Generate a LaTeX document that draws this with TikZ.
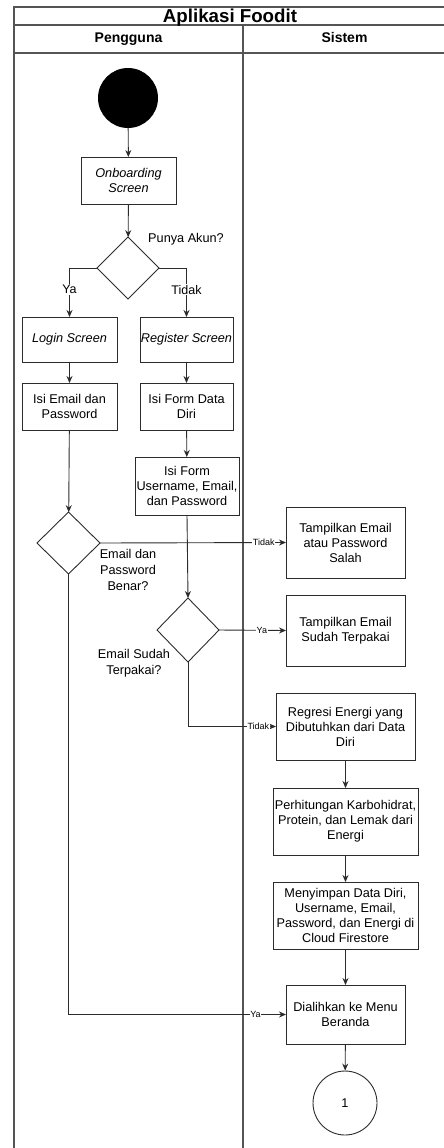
\documentclass[tikz,border=0pt]{standalone}
\usepackage{fontspec}
\setmainfont{Liberation Sans}
\usetikzlibrary{positioning, shapes.geometric, arrows.meta}
\definecolor{L1}{HTML}{2b2b2b}
\definecolor{L2}{HTML}{555555}

\begin{document}
\begin{tikzpicture}[
	x=1pt, y=-1pt,
	box/.style = {draw=L1, rectangle, align=center, inner sep=0pt, outer sep=0pt, line width=0.9pt, font=\fontsize{12.7}{15}\selectfont},
	ibox/.style = {box, font=\fontsize{12.7}{15}\selectfont\itshape},
	dec/.style = {draw=L1, diamond, inner sep=0pt, outer sep=0pt, line width=0.9pt},
	txt/.style = {align=center, inner sep=0pt, font=\fontsize{12.7}{16}\selectfont},
	lbl/.style = {fill=white, inner sep=1pt, font=\fontsize{12.5}{14}\selectfont},
	slbl/.style = {fill=white, inner sep=0.5pt, font=\fontsize{9}{10}\selectfont},
	flow/.style = {draw=L1, line width=0.9pt, -{Stealth[length=7pt, width=6pt]}},
	frame/.style = {draw=L2, line width=1.3pt},
	head/.style = {anchor=base, inner sep=0pt, font=\fontsize{14}{16}\selectfont\bfseries},
	every edge/.style = {flow}
]
  \useasboundingbox (0, 0) rectangle (444, 1148);

  % Swimlanes
  \draw[frame] (14, 1160) -- (14, 7) -- (450, 7);
  \draw[frame] (14, 25) -- (450, 25);
  \draw[frame] (14, 53) -- (450, 53);
  \draw[frame] (243, 25) -- (243, 1160);
  \node[head, font=\fontsize{18.7}{21}\selectfont\bfseries] at (230, 22.5) (title) {Aplikasi Foodit};
  \node[head] at (128.5, 43) (user) {Pengguna};
  \node[head] at (344.5, 43) (sys) {Sistem};

  % Define vertices
  \node[circle, fill=black, minimum size=60pt, inner sep=0pt] at (128, 98) (start) {};
  \node[ibox, minimum width=95pt, minimum height=47pt] at (128.5, 180.5) (onb) {Onboarding \\ Screen};
  \node[dec, minimum width=62pt, minimum height=62pt] at (128, 268) (akun) {};
  \node[txt] at (186, 239) (akunq) {Punya Akun?};
  \node[ibox, minimum width=95pt, minimum height=45pt] at (69.5, 339.5) (login) {Login Screen};
  \node[ibox, minimum width=93pt, minimum height=45pt] at (186.5, 339.5) (reg) {Register Screen};
  \node[box, minimum width=95pt, minimum height=47pt] at (69.5, 406.5) (isimail) {Isi Email dan \\ Password};
  \node[box, minimum width=93pt, minimum height=47pt] at (186.5, 406.5) (isidata) {Isi Form Data \\ Diri};
  \node[box, minimum width=104pt, minimum height=58pt] at (187, 486) (isiuser) {Isi Form \\ Username, Email, \\ dan Password};
  \node[dec, minimum width=63pt, minimum height=62pt] at (68.5, 543) (benar) {};
  \node[txt] at (128, 570) (benarq) {Email dan \\ Password \\ Benar?};
  \node[box, minimum width=119pt, minimum height=71pt] at (345.5, 542.5) (salah) {Tampilkan Email \\ atau Password \\ Salah};
  \node[dec, minimum width=62pt, minimum height=64pt] at (188, 630) (pakai) {};
  \node[txt] at (134, 663) (pakaiq) {Email Sudah \\ Terpakai?};
  \node[box, minimum width=119pt, minimum height=71pt] at (345.5, 630.5) (sudah) {Tampilkan Email \\ Sudah Terpakai};
  \node[box, minimum width=139pt, minimum height=67pt] at (345.5, 726.5) (regresi) {Regresi Energi yang \\ Dibutuhkan dari Data \\ Diri};
  \node[box, minimum width=145pt, minimum height=67pt] at (345.5, 821.5) (hitung) {Perhitungan Karbohidrat, \\ Protein, dan Lemak dari \\ Energi};
  \node[box, minimum width=145pt, minimum height=67pt] at (345.5, 915.5) (simpan) {Menyimpan Data Diri, \\ Username, Email, \\ Password, dan Energi di \\ Cloud Firestore};
  \node[box, minimum width=119pt, minimum height=59pt] at (345.5, 1014.5) (beranda) {Dialihkan ke Menu \\ Beranda};
  \node[circle, draw=L1, line width=0.9pt, minimum size=64pt, inner sep=0pt, font=\fontsize{12.7}{15}\selectfont] at (345, 1103) (satu) {1};

  % Edges
  \draw (start) edge (onb);
  \draw (onb) edge (akun);
  \draw[flow] (akun.west) -| node[lbl, pos=0.72] {Ya} (login.north);
  \draw[flow] (akun.east) -| node[lbl, pos=0.72] {Tidak} (reg.north);
  \draw (login) edge (isimail);
  \draw (reg) edge (isidata);
  \draw (isidata) edge (isiuser);
  \draw (isimail) edge (benar);
  \draw[flow] (benar.east) -- node[slbl, pos=0.88] {Tidak} (salah.west);
  \draw (isiuser.south) edge (pakai.north);
  \draw[flow] (pakai.east) -- node[slbl, pos=0.64] {Ya} (sudah.west);
  \draw[flow] (pakai.south) |- node[slbl, pos=0.9] {Tidak} (regresi.west);
  \draw (regresi) edge (hitung);
  \draw (hitung) edge (simpan);
  \draw (simpan) edge (beranda);
  \draw (beranda) edge (satu);
  \draw[flow] (benar.south) |- node[slbl, pos=0.93] {Ya} (beranda.west);
\end{tikzpicture}
\end{document}
